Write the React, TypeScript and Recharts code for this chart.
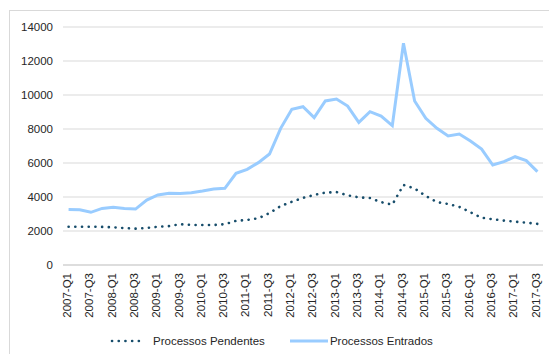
import React from 'react';
import { LineChart, Line, XAxis, YAxis, CartesianGrid, Legend } from 'recharts';

const quarters = [
  '2007-Q1', '2007-Q2', '2007-Q3', '2007-Q4',
  '2008-Q1', '2008-Q2', '2008-Q3', '2008-Q4',
  '2009-Q1', '2009-Q2', '2009-Q3', '2009-Q4',
  '2010-Q1', '2010-Q2', '2010-Q3', '2010-Q4',
  '2011-Q1', '2011-Q2', '2011-Q3', '2011-Q4',
  '2012-Q1', '2012-Q2', '2012-Q3', '2012-Q4',
  '2013-Q1', '2013-Q2', '2013-Q3', '2013-Q4',
  '2014-Q1', '2014-Q2', '2014-Q3', '2014-Q4',
  '2015-Q1', '2015-Q2', '2015-Q3', '2015-Q4',
  '2016-Q1', '2016-Q2', '2016-Q3', '2016-Q4',
  '2017-Q1', '2017-Q2', '2017-Q3',
];

const pendentes = [
  2250, 2250, 2250, 2240, 2220, 2170, 2140, 2180, 2250, 2290, 2400, 2360,
  2350, 2350, 2400, 2600, 2650, 2750, 3050, 3470, 3720, 3950, 4120, 4260,
  4290, 4100, 3980, 3940, 3700, 3550, 4710, 4500, 4060, 3700, 3590, 3420,
  3100, 2780, 2690, 2610, 2550, 2490, 2420,
];

const entrados = [
  3260, 3250, 3100, 3330, 3390, 3330, 3290, 3820, 4118, 4216, 4200, 4250,
  4350, 4470, 4510, 5390, 5630, 6020, 6530, 8040, 9160, 9310, 8670, 9650,
  9760, 9350, 8390, 9020, 8760, 8200, 13040, 9650, 8630, 8040, 7590, 7700,
  7290, 6820, 5880, 6080, 6370, 6140, 5490,
];

const yTicks = [0, 2000, 4000, 6000, 8000, 10000, 12000, 14000];

const data = quarters.map((q, i) => ({
  q,
  pendentes: pendentes[i],
  entrados: entrados[i],
}));

const FONT = '"Liberation Sans", Arial, sans-serif';
const TEXT = '#262626';
const GRID = '#d9d9d9';
const DARK = '#174d6b';
const LIGHT = '#99ccff';

const XTick = (props: any) => {
  const { x, y, payload } = props;
  return (
    <text
      x={x}
      y={y}
      transform={`rotate(-90 ${x} ${y})`}
      textAnchor="end"
      dy="0.2em"
      fontFamily={FONT}
      fontSize={11.5}
      fill={TEXT}
    >
      {payload.value}
    </text>
  );
};

const LegendContent = () => (
  <div
    style={{
      display: 'flex',
      alignItems: 'center',
      paddingLeft: 110,
      fontFamily: FONT,
      fontSize: 11.5,
      color: TEXT,
      lineHeight: '16px',
      height: 16,
    }}
  >
    <svg width={36} height={8} style={{ display: 'block' }}>
      <line x1={2} y1={4} x2={35} y2={4} stroke={DARK} strokeWidth={2.6} strokeDasharray="0.1 6.6" strokeLinecap="round" />
    </svg>
    <span style={{ marginLeft: 7, whiteSpace: 'nowrap' }}>Processos Pendentes</span>
    <svg width={38} height={8} style={{ display: 'block', marginLeft: 25 }}>
      <line x1={0} y1={4} x2={38} y2={4} stroke={LIGHT} strokeWidth={3} />
    </svg>
    <span style={{ marginLeft: 2, whiteSpace: 'nowrap' }}>Processos Entrados</span>
  </div>
);

export default function App() {
  return (
    <div style={{ position: 'fixed', left: 0, top: 0, width: 549, height: 354, background: '#fff' }}>
      <div
        style={{
          position: 'absolute',
          left: 9,
          top: 10,
          width: 700,
          height: 500,
          borderTop: `1px solid ${GRID}`,
          borderLeft: `1px solid ${GRID}`,
        }}
      />
      <div style={{ position: 'absolute', left: 0, top: 0 }}>
        <LineChart
          width={549}
          height={354}
          data={data}
          margin={{ top: 27, right: 6, left: 0, bottom: 0 }}
        >
          <CartesianGrid vertical={false} stroke={GRID} strokeWidth={1.2} />
          <XAxis
            dataKey="q"
            interval={1}
            height={89}
            tickLine={false}
            tickSize={0}
            tickMargin={8}
            axisLine={{ stroke: GRID, strokeWidth: 1.5 }}
            padding={{ left: 5.58, right: 5.58 }}
            tick={<XTick />}
          />
          <YAxis
            width={63}
            domain={[0, 14000]}
            ticks={yTicks}
            interval={0}
            tickLine={false}
            axisLine={false}
            tickSize={0}
            tickMargin={10}
            tick={{ fontFamily: FONT, fontSize: 11.5, fill: TEXT }}
          />
          <Legend
            layout="horizontal"
            verticalAlign="middle"
            align="center"
            wrapperStyle={{ top: 333, left: 0, width: 549 }}
            content={<LegendContent />}
          />
          <Line
            type="linear"
            dataKey="pendentes"
            name="Processos Pendentes"
            stroke={DARK}
            strokeWidth={2.6}
            strokeDasharray="0.1 6.6"
            strokeLinecap="round"
            dot={false}
            activeDot={false}
            isAnimationActive={false}
          />
          <Line
            type="linear"
            dataKey="entrados"
            name="Processos Entrados"
            stroke={LIGHT}
            strokeWidth={3}
            dot={false}
            activeDot={false}
            isAnimationActive={false}
          />
        </LineChart>
      </div>
    </div>
  );
}
